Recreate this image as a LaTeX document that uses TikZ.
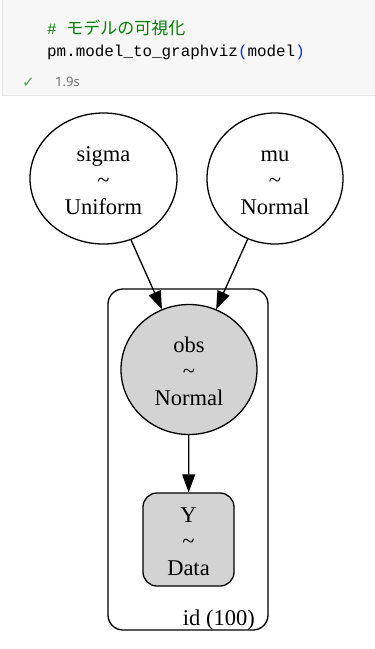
\documentclass[tikz,border=0pt]{standalone}
\usepackage{fontspec}
\setmainfont{Liberation Serif}
\newfontfamily\codefont{Liberation Mono}
\newfontfamily\cjkfont{Noto Sans CJK JP}
\newfontfamily\uifont{Noto Sans}
\newfontfamily\symfont{DejaVu Sans}
\usetikzlibrary{shapes.geometric,arrows.meta}
\definecolor{cellbg}{HTML}{F7F7F7}
\definecolor{cellborder}{HTML}{E6E6E6}
\definecolor{commentgreen}{HTML}{008000}
\definecolor{bracketblue}{HTML}{0431FA}
\definecolor{checkgreen}{HTML}{5A9E5F}
\definecolor{timegray}{HTML}{6E6E6E}
\definecolor{obsgray}{HTML}{D3D3D3}
\tikzset{
  rv/.style={draw=black, ellipse, line width=1.3pt, inner sep=0pt, align=center,
    font=\fontsize{22.5}{26.5}\selectfont},
  datanode/.style={draw=black, rectangle, rounded corners=14pt, line width=1.3pt,
    fill=obsgray, inner sep=0pt, align=center, font=\fontsize{22.5}{26.5}\selectfont},
  plate/.style={draw=black, rectangle, rounded corners=15pt, line width=1.3pt, inner sep=0pt},
  edge/.style={draw=black, line width=1.3pt, -{Triangle[length=18pt,width=13pt]}},
  codetext/.style={anchor=base west, inner sep=0pt, font=\codefont\fontsize{15.9}{16}\selectfont},
}
\begin{document}
\begin{tikzpicture}[x=1pt,y=-1pt]
\useasboundingbox (0,0) rectangle (375,649);
\fill[white] (0,0) rectangle (375,649);
% notebook cell
\draw[fill=cellbg, draw=cellborder, line width=0.8pt] (2.5,-2) rectangle (377,95.5);
\node[codetext, text=commentgreen] (comment) at (47,34) {\#~{\cjkfont\fontsize{17}{17}\selectfont モデルの可視化}};
\node[codetext] (code) at (47,56) {pm.model\_to\_graphviz\textcolor{bracketblue}{(}model\textcolor{bracketblue}{)}};
\node[anchor=base west, inner sep=0pt, text=checkgreen, font=\symfont\fontsize{15}{15}\selectfont] (check) at (22,87) {✓};
\node[anchor=base west, inner sep=0pt, text=timegray, font=\uifont\fontsize{13}{13}\selectfont] (time) at (55,86) {1.9s};
% graph
\node[plate, minimum width=160pt, minimum height=341pt] (platebox) at (188,459.5) {};
\node[anchor=base east, inner sep=0pt, font=\fontsize{22.5}{26.5}\selectfont] (platelabel) at (255,625) {id (100)};
\node[rv, minimum width=147pt, minimum height=131pt] (sigma) at (103.5,178.5) {\strut sigma\\\textasciitilde\\Uniform};
\node[rv, minimum width=136pt, minimum height=131pt] (mu) at (275,178.5) {\strut mu\\\textasciitilde\\Normal};
\node[rv, fill=obsgray, minimum width=136pt, minimum height=130pt] (obs) at (189,369.5) {\strut obs\\\textasciitilde\\Normal};
\node[datanode, minimum width=91pt, minimum height=93pt] (Y) at (188.5,539.5) {\strut Y\\\textasciitilde\\Data};
\draw[edge] (sigma) -- (obs);
\draw[edge] (mu) -- (obs);
\draw[edge] (obs) -- (Y);
\end{tikzpicture}
\end{document}
